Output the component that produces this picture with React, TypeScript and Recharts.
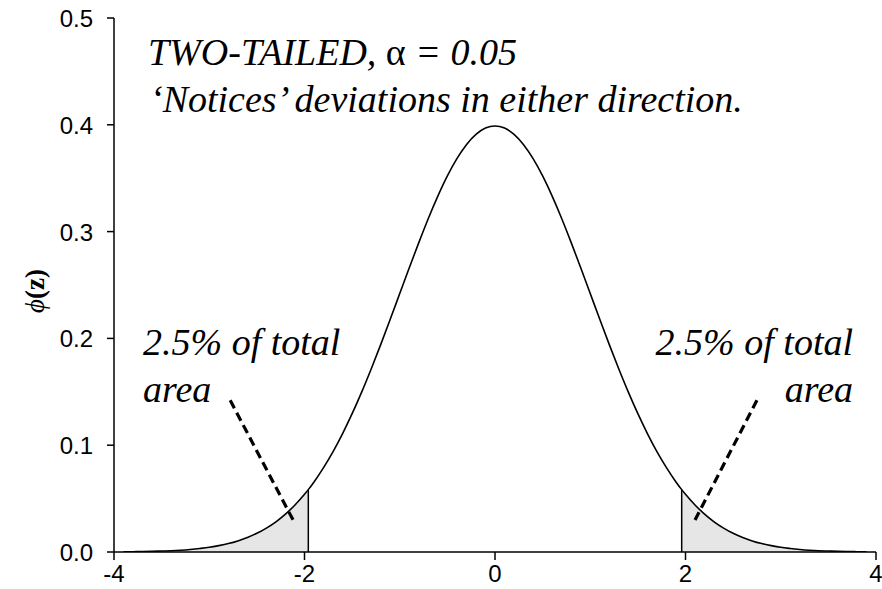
import React from "react";
import {
  ComposedChart,
  Line,
  Area,
  XAxis,
  YAxis,
  ReferenceLine,
  Customized,
} from "recharts";

// z positions along the standard normal curve (critical values ±1.96 included)
const zValues = [
  -3.9, -3.8, -3.7, -3.6, -3.5, -3.4, -3.3, -3.2, -3.1, -3.0,
  -2.9, -2.8, -2.7, -2.6, -2.5, -2.4, -2.3, -2.2, -2.1, -2.0,
  -1.96, -1.9, -1.8, -1.7, -1.6, -1.5, -1.4, -1.3, -1.2, -1.1,
  -1.0, -0.9, -0.8, -0.7, -0.6, -0.5, -0.4, -0.3, -0.2, -0.1,
  0.0, 0.1, 0.2, 0.3, 0.4, 0.5, 0.6, 0.7, 0.8, 0.9,
  1.0, 1.1, 1.2, 1.3, 1.4, 1.5, 1.6, 1.7, 1.8, 1.9,
  1.96, 2.0, 2.1, 2.2, 2.3, 2.4, 2.5, 2.6, 2.7, 2.8,
  2.9, 3.0, 3.1, 3.2, 3.3, 3.4, 3.5, 3.6, 3.7, 3.8, 3.9,
];

// density φ(z) at each z position
const phiValues = [
  0.0002, 0.0003, 0.0004, 0.0006, 0.0009, 0.0012, 0.0017, 0.0024, 0.0033, 0.0044,
  0.006, 0.0079, 0.0104, 0.0136, 0.0175, 0.0224, 0.0283, 0.0355, 0.044, 0.054,
  0.0584, 0.0656, 0.079, 0.094, 0.1109, 0.1295, 0.1497, 0.1714, 0.1942, 0.2179,
  0.242, 0.2661, 0.2897, 0.3123, 0.3332, 0.3521, 0.3683, 0.3814, 0.391, 0.397,
  0.3989, 0.397, 0.391, 0.3814, 0.3683, 0.3521, 0.3332, 0.3123, 0.2897, 0.2661,
  0.242, 0.2179, 0.1942, 0.1714, 0.1497, 0.1295, 0.1109, 0.094, 0.079, 0.0656,
  0.0584, 0.054, 0.044, 0.0355, 0.0283, 0.0224, 0.0175, 0.0136, 0.0104, 0.0079,
  0.006, 0.0044, 0.0033, 0.0024, 0.0017, 0.0012, 0.0009, 0.0006, 0.0004, 0.0003, 0.0002,
];

const criticalZ = 1.96;
const criticalPhi = 0.0584;

const xTicks = [-4, -2, 0, 2, 4];
const yTicks = [0, 0.1, 0.2, 0.3, 0.4, 0.5];

const titleLines = ["TWO-TAILED, ", "\u03b1", " = 0.05"];
const subtitle = "\u2018Notices\u2019 deviations in either direction.";
const tailLabel = ["2.5% of total", "area"];

// pointer lines from the tail labels toward the shaded tails
const leftPointer = [
  { x: -2.78, y: 0.142 },
  { x: -2.12, y: 0.03 },
];
const rightPointer = [
  { x: 2.75, y: 0.142 },
  { x: 2.1, y: 0.03 },
];

const data = zValues.map((z, i) => ({
  z,
  phi: phiValues[i],
  leftTail: z <= -criticalZ + 1e-9 ? phiValues[i] : null,
  rightTail: z >= criticalZ - 1e-9 ? phiValues[i] : null,
}));

const serif = "Liberation Serif, DejaVu Serif, Noto Serif, serif";
const sans = "Liberation Sans, Arial, Helvetica, sans-serif";

const serifItalic: React.CSSProperties = {
  fontFamily: serif,
  fontSize: 38,
  fontStyle: "italic",
};

const Annotations = () => (
  <g fill="#000">
    <text x={148} y={65} fontFamily={serif} style={{ fontFamily: serif, fontSize: 38 }}>
      <tspan fontFamily={serif} style={{ fontStyle: "italic" }}>{titleLines[0]}</tspan>
      <tspan fontFamily={serif} style={{ fontStyle: "normal" }}>{titleLines[1]}</tspan>
      <tspan fontFamily={serif} style={{ fontStyle: "italic" }}>{titleLines[2]}</tspan>
    </text>
    <text x={150} y={112} fontFamily={serif} style={serifItalic}>
      {subtitle}
    </text>
    <text x={143} y={355} fontFamily={serif} style={serifItalic}>
      {tailLabel[0]}
    </text>
    <text x={143} y={402} fontFamily={serif} style={serifItalic}>
      {tailLabel[1]}
    </text>
    <text x={853} y={355} textAnchor="end" fontFamily={serif} style={serifItalic}>
      {tailLabel[0]}
    </text>
    <text x={853} y={402} textAnchor="end" fontFamily={serif} style={serifItalic}>
      {tailLabel[1]}
    </text>
    <text
      x={0}
      y={0}
      transform="translate(44, 291) rotate(-90)"
      textAnchor="middle"
      fontFamily={serif}
      style={{ fontFamily: serif, fontSize: 27 }}
    >
      <tspan style={{ fontStyle: "italic" }}>{"\u03d5"}</tspan>
      <tspan style={{ fontWeight: "bold" }}>(z)</tspan>
    </text>
  </g>
);

type TickProps = {
  x?: number;
  y?: number;
  payload?: { value: number };
};

const XTick = ({ x = 0, y = 0, payload }: TickProps) => (
  <text
    x={x}
    y={y + 22}
    textAnchor="middle"
    fill="#000"
    style={{ fontFamily: sans, fontSize: 24 }}
  >
    {payload ? String(payload.value) : ""}
  </text>
);

const YTick = ({ x = 0, y = 0, payload }: TickProps) => (
  <text
    x={x}
    y={y + 9}
    textAnchor="end"
    fill="#000"
    style={{ fontFamily: sans, fontSize: 24 }}
  >
    {payload ? payload.value.toFixed(1) : ""}
  </text>
);

export default function App() {
  return (
    <div style={{ position: "absolute", left: 0, top: 0, background: "#fff" }}>
      <ComposedChart
        width={882}
        height={589}
        data={data}
        margin={{ top: 18, right: 6, bottom: 0, left: 0 }}
      >
        <XAxis
          dataKey="z"
          type="number"
          domain={[-4, 4]}
          ticks={xTicks}
          tickSize={8}
          tickMargin={0}
          height={37}
          axisLine={{ stroke: "#000", strokeWidth: 1.5 }}
          tickLine={{ stroke: "#000", strokeWidth: 1.5 }}
          tick={<XTick />}
          allowDataOverflow
        />
        <YAxis
          type="number"
          domain={[0, 0.5]}
          ticks={yTicks}
          tickSize={7}
          tickMargin={14}
          width={114}
          axisLine={{ stroke: "#000", strokeWidth: 1.5 }}
          tickLine={{ stroke: "#000", strokeWidth: 1.5 }}
          tick={<YTick />}
          allowDataOverflow
        />
        <Area
          dataKey="leftTail"
          type="monotone"
          fill="#e6e6e6"
          fillOpacity={1}
          stroke="none"
          baseValue={0}
          isAnimationActive={false}
        />
        <Area
          dataKey="rightTail"
          type="monotone"
          fill="#e6e6e6"
          fillOpacity={1}
          stroke="none"
          baseValue={0}
          isAnimationActive={false}
        />
        <ReferenceLine
          segment={[
            { x: -criticalZ, y: 0 },
            { x: -criticalZ, y: criticalPhi },
          ]}
          stroke="#000"
          strokeWidth={1.5}
        />
        <ReferenceLine
          segment={[
            { x: criticalZ, y: 0 },
            { x: criticalZ, y: criticalPhi },
          ]}
          stroke="#000"
          strokeWidth={1.5}
        />
        <Line
          dataKey="phi"
          type="monotone"
          stroke="#000"
          strokeWidth={1.6}
          dot={false}
          activeDot={false}
          isAnimationActive={false}
        />
        <ReferenceLine
          segment={leftPointer}
          stroke="#000"
          strokeWidth={3.2}
          strokeDasharray="9 5"
        />
        <ReferenceLine
          segment={rightPointer}
          stroke="#000"
          strokeWidth={3.2}
          strokeDasharray="9 5"
        />
        <Customized component={Annotations} />
      </ComposedChart>
    </div>
  );
}
